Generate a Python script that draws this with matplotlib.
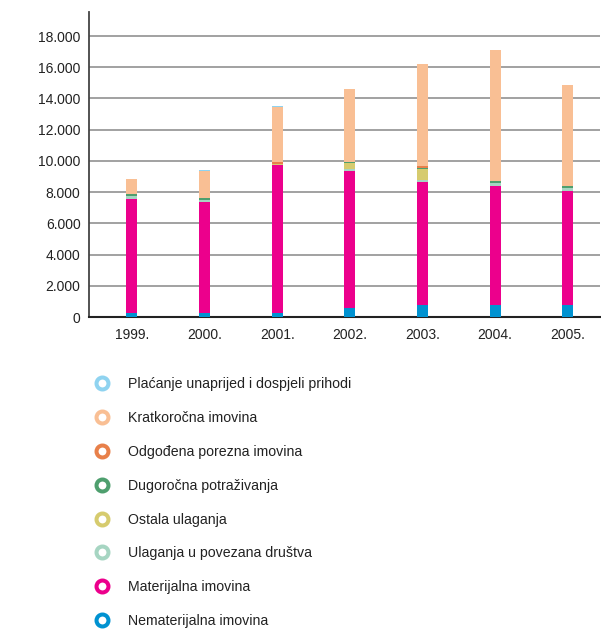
import numpy as np
import matplotlib
matplotlib.use("Agg")
import matplotlib.pyplot as plt
from matplotlib.lines import Line2D
from matplotlib.ticker import FuncFormatter

plt.rcParams['font.family'] = ['Liberation Sans', 'DejaVu Sans']

# data
years = ['1999.', '2000.', '2001.', '2002.', '2003.', '2004.', '2005.']
nematerijalna = [270, 270, 270, 580, 750, 750, 750]
materijalna = [7280, 7110, 9480, 8750, 7880, 7620, 7300]
povezana = [210, 110, 0, 150, 120, 190, 190]
ostala = [0, 0, 50, 370, 750, 0, 0]
dugorocna = [130, 120, 0, 60, 50, 130, 130]
odgodena = [0, 0, 130, 0, 100, 0, 0]
kratkorocna = [940, 1750, 3500, 4680, 6540, 8390, 6470]
placanje = [0, 60, 70, 0, 0, 0, 0]

# bottom to top
series = [
    ('Nematerijalna imovina', nematerijalna, '#0092d1'),
    ('Materijalna imovina', materijalna, '#ec008c'),
    ('Ulaganja u povezana društva', povezana, '#a6d5c2'),
    ('Ostala ulaganja', ostala, '#d6cb6e'),
    ('Dugoročna potraživanja', dugorocna, '#4e9f6e'),
    ('Odgođena porezna imovina', odgodena, '#e8804a'),
    ('Kratkoročna imovina', kratkorocna, '#f9bf94'),
    ('Plaćanje unaprijed i dospjeli prihodi', placanje, '#8fd3f0'),
]

fig = plt.figure(figsize=(6.01, 6.32), dpi=100)
ax = fig.add_axes([0.148, 0.4984, 0.85, 0.4826])

x = np.arange(len(years))
bottom = np.zeros(len(years))
for name, vals, col in series:
    ax.bar(x, vals, 0.15, bottom=bottom, color=col, zorder=3)
    bottom += np.array(vals)

ax.set_xlim(-0.59, 6.44)
ax.set_ylim(0, 19540)
ax.set_yticks(np.arange(0, 18001, 2000))
ax.yaxis.set_major_formatter(FuncFormatter(lambda v, p: f'{int(v):,}'.replace(',', '.')))
ax.set_xticks(x)
ax.set_xticklabels(years)
ax.tick_params(axis='both', length=0, labelsize=10, colors='#222222')
ax.tick_params(axis='y', pad=6)
ax.tick_params(axis='x', pad=8)
ax.grid(axis='y', color='#9a9a9a', linewidth=1.3, zorder=0)
for s in ['top', 'right']:
    ax.spines[s].set_visible(False)
ax.spines['left'].set_color('#444444')
ax.spines['left'].set_linewidth(1.3)
ax.spines['bottom'].set_color('#222222')
ax.spines['bottom'].set_linewidth(1.5)

handles = []
for name, vals, col in series[::-1]:
    handles.append(Line2D([], [], linestyle='none', marker='o', markersize=8.6,
                          markerfacecolor='white', markeredgecolor=col,
                          markeredgewidth=2.9, label=name))
fig.legend(handles=handles, loc='upper left', bbox_to_anchor=(0.137, 0.412),
           frameon=False, fontsize=10.2, labelspacing=1.4, handletextpad=0.8,
           labelcolor='#222222', borderaxespad=0)

plt.savefig('out.png', dpi=100)
